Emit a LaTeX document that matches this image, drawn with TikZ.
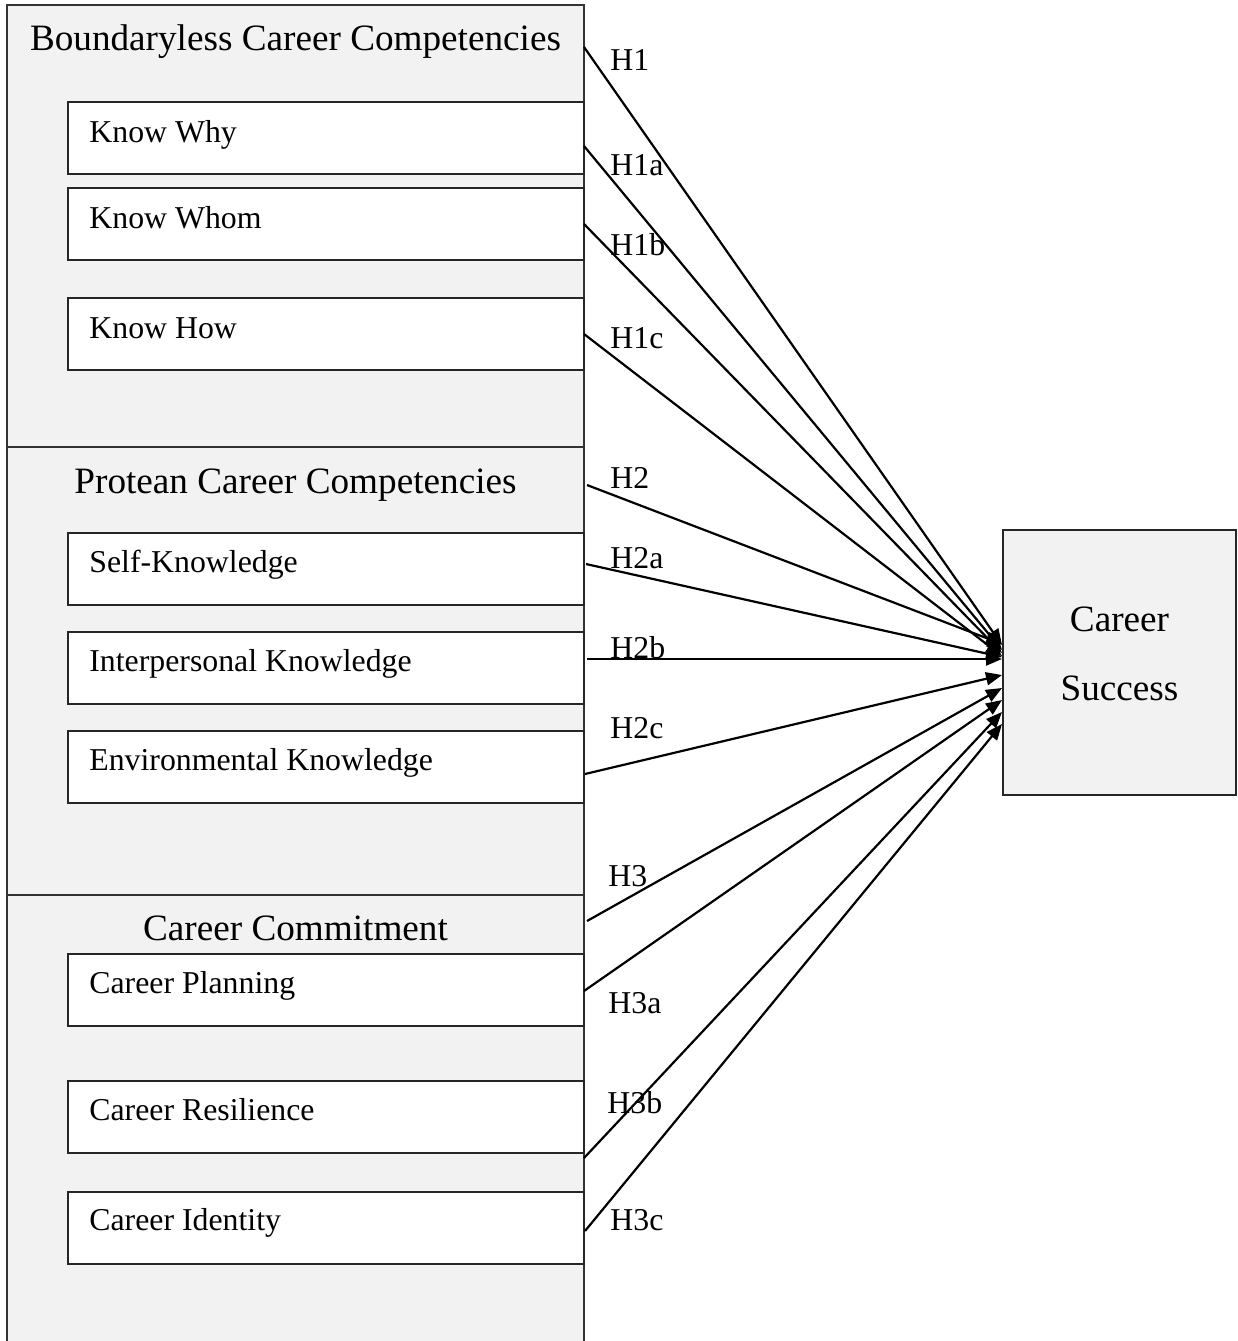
\documentclass[tikz,border=0pt]{standalone}
\usepackage{fontspec}
\setmainfont{Liberation Serif}
\usetikzlibrary{arrows.meta}
\definecolor{panelgray}{HTML}{F2F2F2}
\begin{document}
\begin{tikzpicture}[x=0.5pt,y=-0.5pt,
  panel/.style={draw=black!80, line width=0.7pt, fill=panelgray, anchor=north west,
    minimum width=288.5pt, inner sep=0, outer sep=0},
  itembox/.style={draw=black!85, line width=0.7pt, fill=white, anchor=north west,
    minimum width=258pt, minimum height=36pt, inner sep=0, outer sep=0},
  itemtext/.style={anchor=base west, font=\fontsize{15.9}{18}\selectfont, inner sep=0},
  titletext/.style={anchor=base, font=\fontsize{18.6}{22}\selectfont, inner sep=0},
  hlabel/.style={anchor=west, font=\fontsize{15.9}{18}\selectfont, inner sep=0},
  link/.style={line width=1.1pt, -{Triangle[length=8pt,width=6.5pt]}}
]
\useasboundingbox (0,0) rectangle (1238,1341);

% sections
\node[panel, minimum height=221pt] (sec1) at (7,5) {};
\node[panel, minimum height=224pt] (sec2) at (7,447) {};
\node[panel, minimum height=226pt] (sec3) at (7,895) {};

% titles
\node[titletext] (t1) at (295.5,50) {Boundaryless Career Competencies};
\node[titletext] (t2) at (295.5,493) {Protean Career Competencies};
\node[titletext] (t3) at (295.5,940) {Career Commitment};

% item boxes
\node[itembox] (b1) at (68,102) {};
\node[itembox] (b2) at (68,188) {};
\node[itembox] (b3) at (68,298) {};
\node[itembox] (b4) at (68,533) {};
\node[itembox] (b5) at (68,632) {};
\node[itembox] (b6) at (68,731) {};
\node[itembox] (b7) at (68,954) {};
\node[itembox] (b8) at (68,1081) {};
\node[itembox] (b9) at (68,1192) {};

\node[itemtext] (x1) at (89,142) {Know Why};
\node[itemtext] (x2) at (89,228) {Know Whom};
\node[itemtext] (x3) at (89,338) {Know How};
\node[itemtext] (x4) at (89,572) {Self-Knowledge};
\node[itemtext] (x5) at (89,671) {Interpersonal Knowledge};
\node[itemtext] (x6) at (89,770) {Environmental Knowledge};
\node[itemtext] (x7) at (89,993) {Career Planning};
\node[itemtext] (x8) at (89,1120) {Career Resilience};
\node[itemtext] (x9) at (89,1230) {Career Identity};

% outcome
\node[draw=black!85, line width=0.7pt, fill=panelgray, minimum width=116.5pt,
  minimum height=132.5pt, inner sep=0] (cs) at (1119.5,662.5) {};
\node[align=center, font=\fontsize{18.6}{34.5}\selectfont, inner sep=0] (cstext)
  at (1119.5,653.5) {Career\\Success};

% start and end points
\coordinate (s1) at (584,47);
\coordinate (s2) at (584,146);
\coordinate (s3) at (584,224);
\coordinate (s4) at (584,334);
\coordinate (s5) at (587,485);
\coordinate (s6) at (586,564);
\coordinate (s7) at (587,659);
\coordinate (s8) at (585,774);
\coordinate (s9) at (587,921);
\coordinate (s10) at (584,991);
\coordinate (s11) at (584,1158);
\coordinate (s12) at (585,1231);

\coordinate (e1) at (1002,645);
\coordinate (e2) at (1002,650);
\coordinate (e3) at (1002,653);
\coordinate (e4) at (1002,656);
\coordinate (e5) at (1002,644);
\coordinate (e6) at (1002,657);
\coordinate (e7) at (1002,659);
\coordinate (e8) at (1002,675);
\coordinate (e9) at (1002,688);
\coordinate (e10) at (1002,700);
\coordinate (e11) at (1002,712);
\coordinate (e12) at (1002,724);

\foreach \i in {1,...,12} { \draw[link] (s\i) -- (e\i); }

% labels
\node[hlabel] (h1) at (610,60) {H1};
\node[hlabel] (h1a) at (610,165) {H1a};
\node[hlabel] (h1b) at (610,245) {H1b};
\node[hlabel] (h1c) at (610,338) {H1c};
\node[hlabel] (h2) at (610,478) {H2};
\node[hlabel] (h2a) at (610,558) {H2a};
\node[hlabel] (h2b) at (610,648) {H2b};
\node[hlabel] (h2c) at (610,728) {H2c};
\node[hlabel] (h3) at (608,876) {H3};
\node[hlabel] (h3a) at (608,1003) {H3a};
\node[hlabel] (h3b) at (607,1103) {H3b};
\node[hlabel] (h3c) at (610,1220) {H3c};
\end{tikzpicture}
\end{document}
